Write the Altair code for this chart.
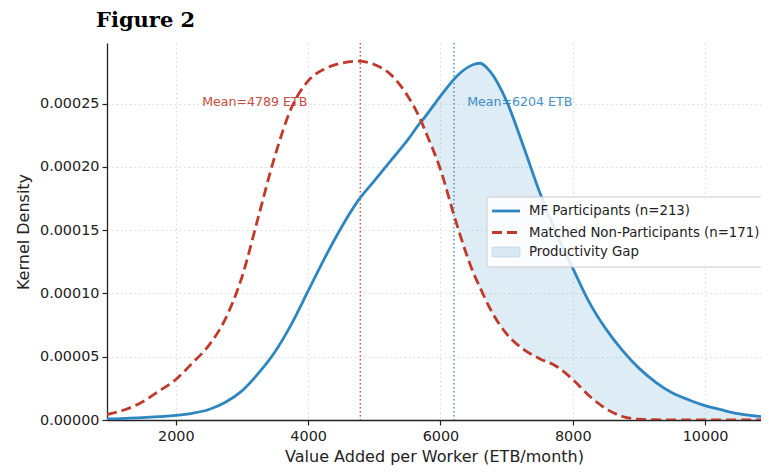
import altair as alt
import pandas as pd
import numpy as np

# ---- data ----
x_vals = [960, 1250, 1500, 1750, 2000, 2250, 2500, 2750, 3000, 3250, 3500, 3750, 4000, 4250, 4500,
          4750, 5000, 5250, 5500, 5710, 5750, 6000, 6250, 6500, 6600, 6750, 7000, 7250, 7500, 7750,
          8000, 8250, 8500, 8750, 9000, 9250, 9500, 9750, 10000, 10250, 10500, 10750, 10930]
mf_density = [0.8e-6, 1.3e-6, 1.8e-6, 2.6e-6, 3.6e-6, 5.3e-6, 8.3e-6, 1.4e-5, 2.3e-5, 3.7e-5,
              5.4e-5, 7.6e-5, 1.02e-4, 1.28e-4, 1.52e-4, 1.73e-4, 1.89e-4, 2.05e-4, 2.21e-4, 2.36e-4,
              2.385e-4, 2.56e-4, 2.72e-4, 2.81e-4, 2.82e-4, 2.755e-4, 2.52e-4, 2.17e-4, 1.80e-4, 1.48e-4,
              1.20e-4, 9.3e-5, 7.2e-5, 5.5e-5, 4.1e-5, 3.0e-5, 2.15e-5, 1.6e-5, 1.13e-5, 8.0e-6,
              5.0e-6, 3.2e-6, 2.2e-6]
nonp_density = [4.3e-6, 8.5e-6, 1.45e-5, 2.3e-5, 3.2e-5, 4.5e-5, 5.9e-5, 8.0e-5, 1.13e-4, 1.61e-4,
                2.09e-4, 2.47e-4, 2.68e-4, 2.775e-4, 2.82e-4, 2.837e-4, 2.81e-4, 2.73e-4, 2.565e-4, 2.36e-4,
                2.31e-4, 1.98e-4, 1.54e-4, 1.16e-4, 1.045e-4, 8.8e-5, 6.8e-5, 5.6e-5, 4.85e-5, 4.25e-5,
                3.2e-5, 1.9e-5, 9.0e-6, 2.8e-6, 6e-7, 2e-7, 0, 0, 0, 0,
                0, 0, 0]
means = [4789, 6204]
mean_labels = ["Mean=4789 ETB", "Mean=6204 ETB"]
x_ticks = [2000, 4000, 6000, 8000, 10000]
y_ticks = [0, 0.00005, 0.0001, 0.00015, 0.0002, 0.00025]
legend_labels = ["MF Participants (n=213)", "Matched Non-Participants (n=171)", "Productivity Gap"]

BLUE = "#2E86C1"
RED = "#C0392B"
FONT = "DejaVu Sans"

mf = np.array(mf_density)
nonp = np.array(nonp_density)
df = pd.DataFrame({
    "x": x_vals,
    "mf": mf_density,
    "nonp": nonp_density,
    "gap_lo": np.where(mf > nonp, nonp, mf),
})

xs = alt.Scale(domain=[960, 10845], nice=False, zero=False)
ys = alt.Scale(domain=[0, 0.000298], nice=False)

xenc = alt.X("x:Q", scale=xs,
             axis=alt.Axis(values=x_ticks, format="d", title="Value Added per Worker (ETB/month)"))
yenc_axis = alt.Axis(values=y_ticks, format=".5f", title="Kernel Density")

base = alt.Chart(df)

gap = base.mark_area(color=BLUE, opacity=0.16, interpolate="monotone", clip=True).encode(
    x=xenc,
    y=alt.Y("mf:Q", scale=ys, axis=yenc_axis),
    y2="gap_lo:Q",
)

mean_df = pd.DataFrame({"m": means, "c": [RED, BLUE]})
mean_rules = alt.Chart(mean_df).mark_rule(strokeDash=[1.5, 2.5], strokeWidth=1.5, opacity=0.85).encode(
    x=alt.X("m:Q", scale=xs),
    color=alt.Color("c:N", scale=None),
)

mf_line = base.mark_line(color=BLUE, strokeWidth=2.8, interpolate="monotone", clip=True).encode(
    x=alt.X("x:Q", scale=xs), y=alt.Y("mf:Q", scale=ys))
np_line = base.mark_line(color=RED, strokeWidth=2.8, strokeDash=[10, 5], interpolate="monotone",
                         clip=True).encode(
    x=alt.X("x:Q", scale=xs), y=alt.Y("nonp:Q", scale=ys))

txt_df = pd.DataFrame({"tx": [means[0] - 800], "ty": [0.000248], "t": [mean_labels[0]]})
txt_df2 = pd.DataFrame({"tx": [means[1] + 200], "ty": [0.000248], "t": [mean_labels[1]]})
mean_txt1 = alt.Chart(txt_df).mark_text(align="right", baseline="alphabetic", color=RED, opacity=0.9,
                                        font=FONT, fontSize=12.6).encode(
    x=alt.X("tx:Q", scale=xs), y=alt.Y("ty:Q", scale=ys), text="t:N")
mean_txt2 = alt.Chart(txt_df2).mark_text(align="left", baseline="alphabetic", color=BLUE, opacity=0.9,
                                         font=FONT, fontSize=12.6).encode(
    x=alt.X("tx:Q", scale=xs), y=alt.Y("ty:Q", scale=ys), text="t:N")

# ---- legend (drawn by hand) ----
one = pd.DataFrame({"a": [0]})
leg_box = alt.Chart(one).mark_rect(fill="white", fillOpacity=0.85, stroke="#cccccc", strokeWidth=1,
                                   cornerRadius=3).encode(
    x=alt.value(380), x2=alt.value(658), y=alt.value(154), y2=alt.value(224))
leg_l1 = alt.Chart(one).mark_rule(color=BLUE, strokeWidth=2.8).encode(
    x=alt.value(385), x2=alt.value(413), y=alt.value(168))
leg_l2 = alt.Chart(one).mark_rule(color=RED, strokeWidth=2.8, strokeDash=[10, 5]).encode(
    x=alt.value(385), x2=alt.value(413), y=alt.value(189.5))
leg_sw = alt.Chart(one).mark_rect(fill=BLUE, fillOpacity=0.16, stroke=BLUE, strokeOpacity=0.16).encode(
    x=alt.value(385), x2=alt.value(413), y=alt.value(204), y2=alt.value(214))
leg_df = pd.DataFrame({"t": legend_labels, "yy": [168, 189.5, 209]})
leg_txt = alt.Chart(leg_df).mark_text(align="left", baseline="middle", font=FONT, fontSize=13.3,
                                      color="#222222").encode(
    x=alt.value(422), y=alt.Y("yy:Q", scale=None), text="t:N")

chart = alt.layer(
    gap, mean_rules, mf_line, np_line, mean_txt1, mean_txt2,
    leg_box, leg_l1, leg_l2, leg_sw, leg_txt
).properties(
    width=654, height=377,
    autosize=alt.AutoSizeParams(type="none"),
    padding={"left": 99, "top": 35, "right": 0, "bottom": 45},
    title=alt.TitleParams(text="Figure 2", anchor="start", frame="group", font="DejaVu Serif",
                          fontSize=21, fontWeight="bold", color="#000000", dx=-11, offset=11),
).configure_view(stroke=None).configure_axis(
    labelFont=FONT, labelFontSize=14.4, labelColor="#222222",
    titleFont=FONT, titleFontSize=16, titleFontWeight="normal", titleColor="#222222",
    domainColor="#222222", domainWidth=1.3, tickColor="#222222", tickSize=5, tickWidth=1.2,
    grid=True, gridColor="#bbbbbb", gridDash=[1.5, 3], gridOpacity=0.55, gridWidth=1,
).configure_axisX(labelPadding=4, titlePadding=6).configure_axisY(labelPadding=3, titlePadding=8)

chart.save("out.html", embed_options={"renderer": "svg", "actions": False})
